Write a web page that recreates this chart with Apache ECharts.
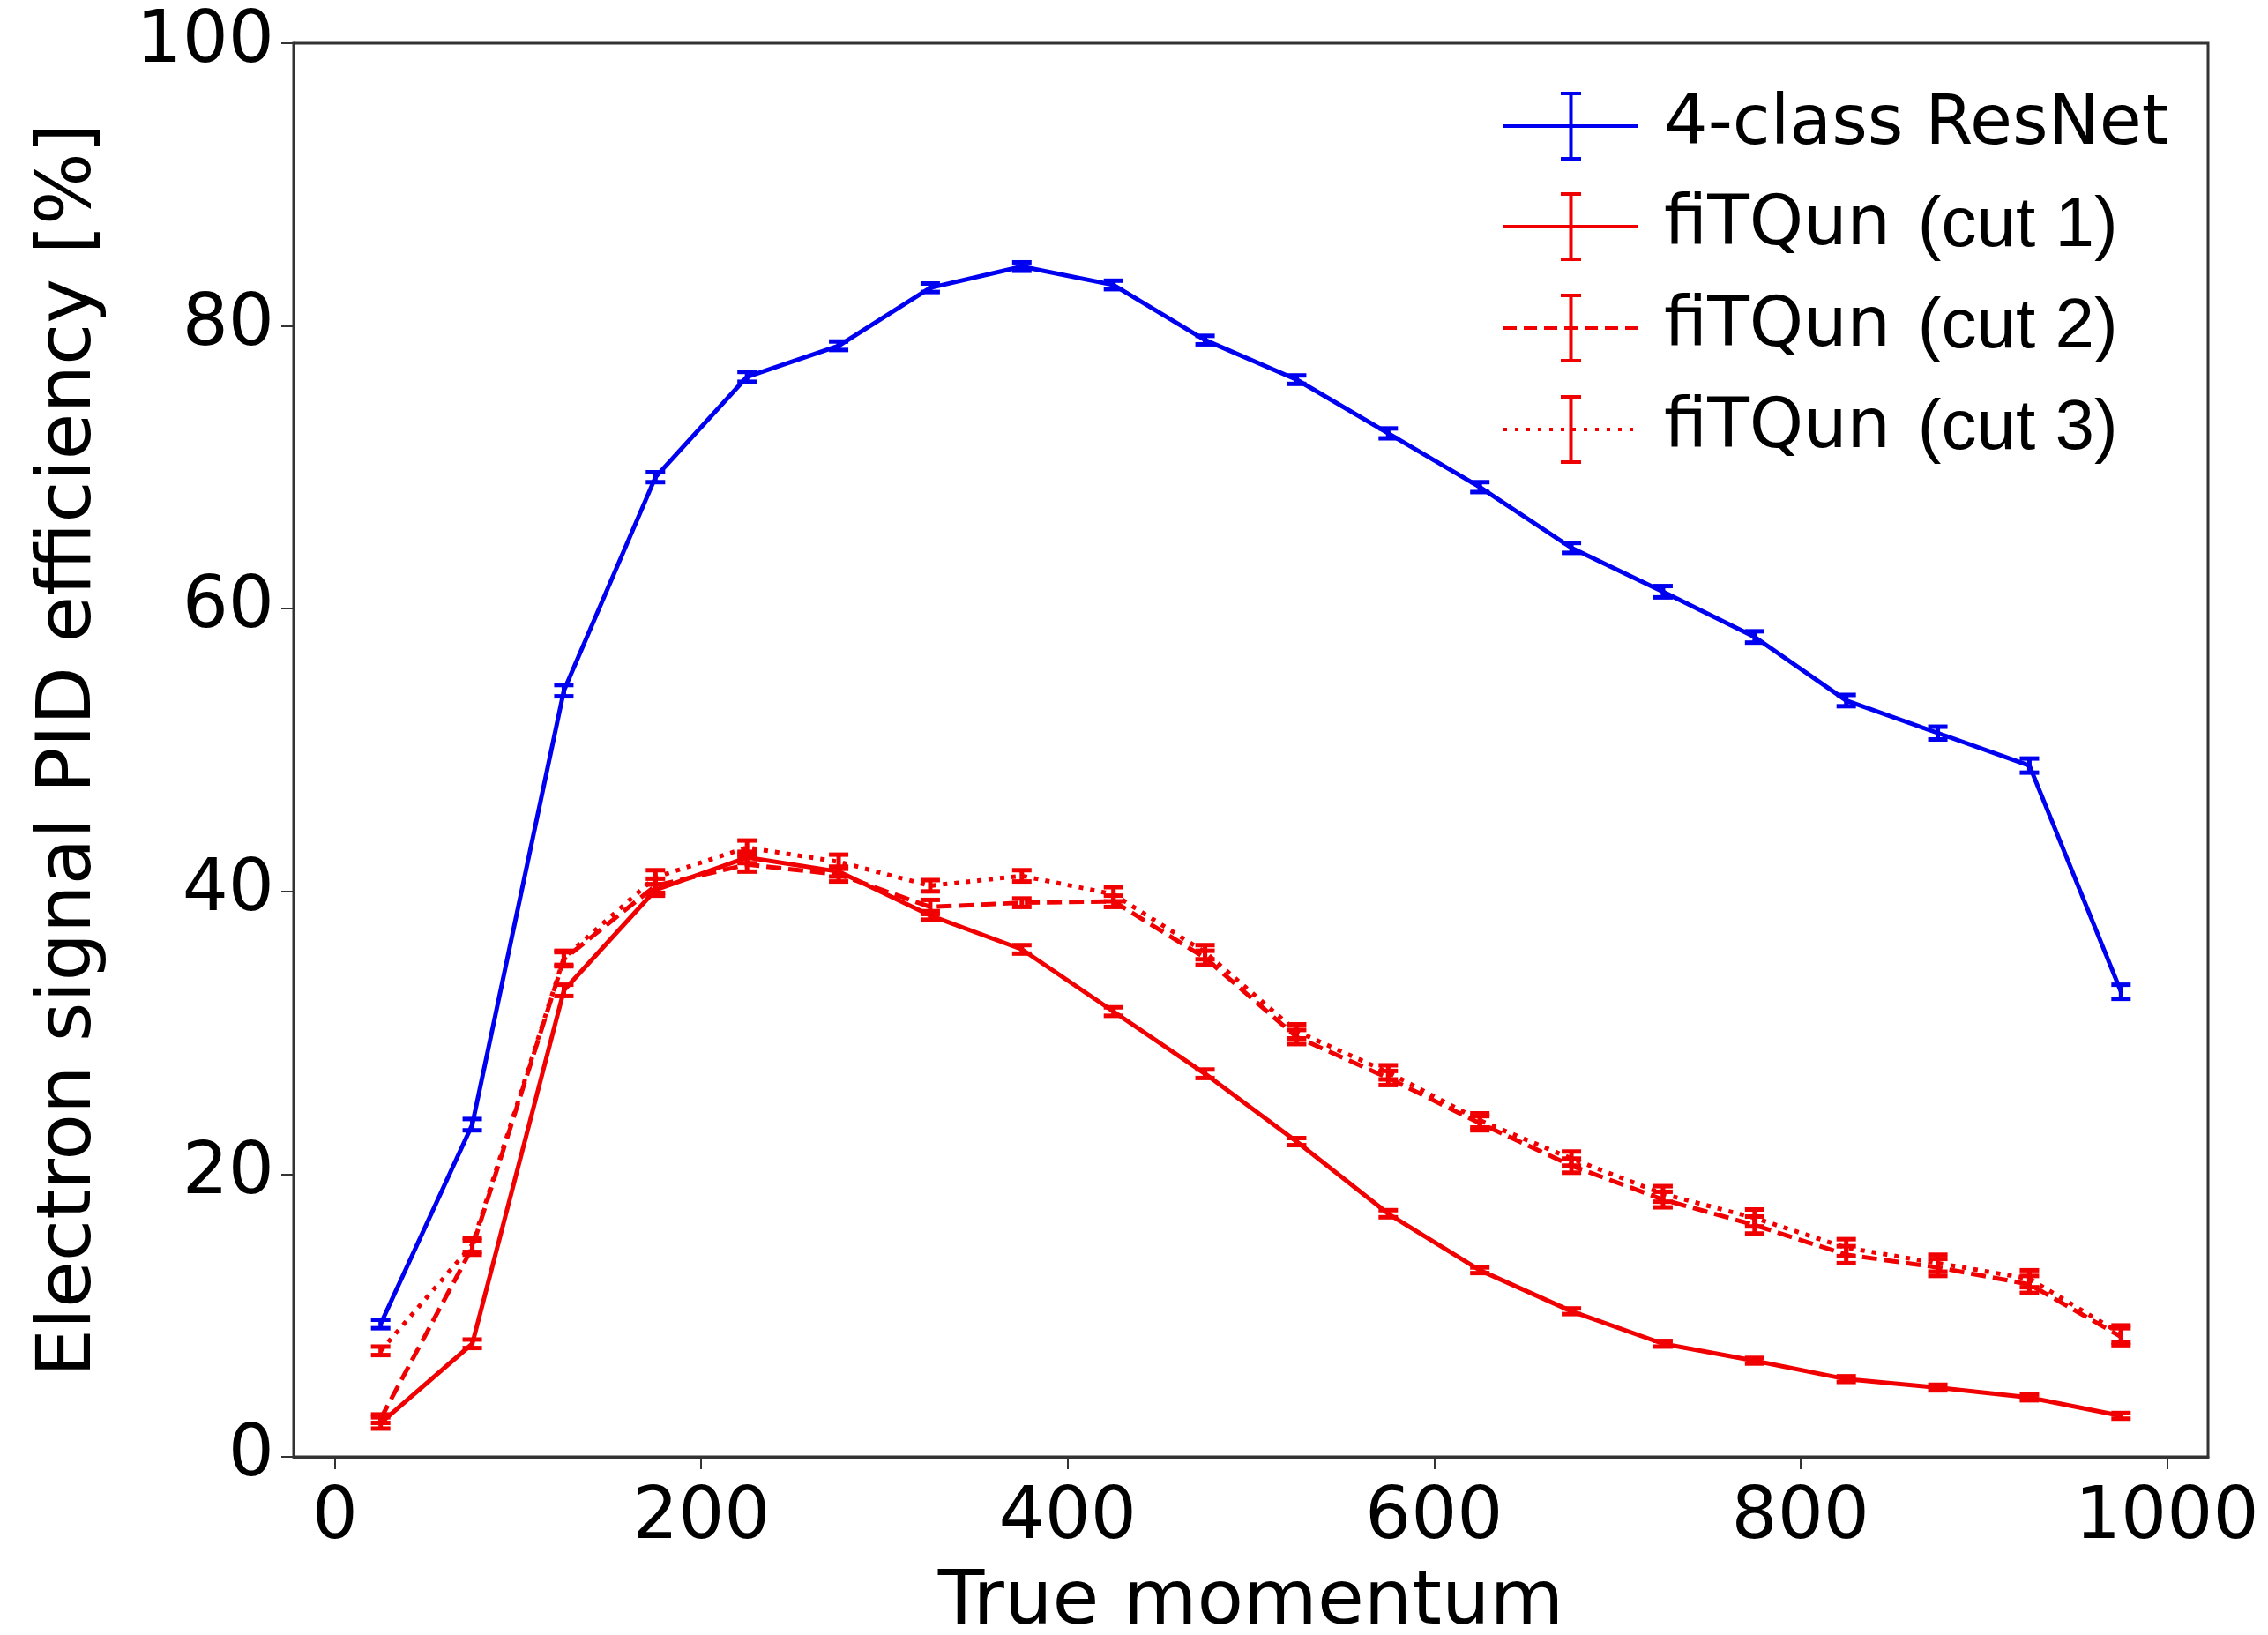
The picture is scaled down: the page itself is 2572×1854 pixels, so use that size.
<!DOCTYPE html>
<html>
<head>
<meta charset="utf-8">
<title>Electron signal PID efficiency</title>
<script src="https://cdn.jsdelivr.net/npm/echarts@6/dist/echarts.min.js"></script>
<style>
    html, body { margin: 0; padding: 0; background: #ffffff; }
    #chart { width: 2572px; height: 1854px; }
</style>
</head>
<body>
<div id="chart"></div>
<script>
// momentum bins (bin centres)
const momentum = [25, 75, 125, 175, 225, 275, 325, 375, 425, 475, 525, 575, 625, 675, 725, 775, 825, 875, 925, 975];

// efficiencies [%]
const resnet = [9.4, 23.5, 54.2, 69.3, 76.4, 78.6, 82.7, 84.2, 82.9, 79.0, 76.2, 72.4, 68.6, 64.3, 61.2, 58.0, 53.5, 51.2, 48.9, 32.9];
const cut1 = [2.4, 8.0, 33.0, 40.1, 42.4, 41.4, 38.3, 35.9, 31.5, 27.1, 22.3, 17.2, 13.2, 10.3, 8.0, 6.8, 5.5, 4.9, 4.2, 2.9];
const cut2 = [2.7, 14.8, 35.2, 40.4, 41.9, 41.2, 38.9, 39.2, 39.3, 35.3, 29.7, 26.8, 23.6, 20.6, 18.2, 16.4, 14.3, 13.4, 12.2, 8.5];
const cut3 = [7.5, 15.0, 35.3, 41.0, 43.1, 42.1, 40.4, 41.1, 39.8, 35.7, 30.1, 27.2, 23.8, 21.1, 18.6, 16.9, 14.8, 13.7, 12.6, 8.7];

// error bars (+/-)
const resnetErr = [0.3, 0.4, 0.4, 0.35, 0.35, 0.3, 0.3, 0.3, 0.3, 0.3, 0.3, 0.35, 0.35, 0.35, 0.4, 0.4, 0.4, 0.45, 0.5, 0.5];
const cut1Err = [0.4, 0.3, 0.4, 0.4, 0.4, 0.35, 0.3, 0.3, 0.3, 0.3, 0.25, 0.25, 0.2, 0.2, 0.2, 0.2, 0.2, 0.2, 0.2, 0.2];
const cut2Err = [0.3, 0.5, 0.5, 0.5, 0.5, 0.5, 0.5, 0.3, 0.4, 0.5, 0.5, 0.5, 0.5, 0.5, 0.55, 0.6, 0.6, 0.6, 0.6, 0.6];
const cut3Err = [0.3, 0.5, 0.5, 0.5, 0.5, 0.5, 0.4, 0.4, 0.5, 0.5, 0.5, 0.5, 0.5, 0.5, 0.55, 0.6, 0.6, 0.6, 0.6, 0.6];

const seriesNames = ['4-class ResNet', 'fiTQun (cut 1)', 'fiTQun (cut 2)', 'fiTQun (cut 3)'];

// tick labels
const xTicks = [0, 200, 400, 600, 800, 1000];
const yTicks = [0, 20, 40, 60, 80, 100];

document.addEventListener('DOMContentLoaded', function() {
    const BLUE = '#0000f0';
    const RED = '#f00000';
    const FONT = 'DejaVu Sans';

    // legend icon: horizontal line (solid / dashed / dotted) with an error bar
    function legendIcon(kind) {
        const W = 153, H = 78, t = 4, cx = 76.5, cap = 11.5;
        let d = '';
        const rect = (x0, y0, x1, y1) => {
            d += 'M' + x0 + ' ' + y0 + 'L' + x1 + ' ' + y0 + 'L' + x1 + ' ' + y1 + 'L' + x0 + ' ' + y1 + 'Z';
        };
        const y0 = H / 2 - t / 2, y1 = H / 2 + t / 2;
        if (kind === 'solid') {
            rect(0, y0, W, y1);
        } else {
            const on = kind === 'dashed' ? 15 : 4;
            const off = kind === 'dashed' ? 8 : 9;
            for (let x = 0; x < W; x += on + off) {
                rect(x, y0, Math.min(x + on, W), y1);
            }
            rect(W - 1, y0, W, y1);
        }
        rect(cx - t / 2, 0, cx + t / 2, H);
        rect(cx - cap, 0, cx + cap, t);
        rect(cx - cap, H - t, cx + cap, H);
        return 'path://' + d;
    }

    // error bars drawn with a custom series
    function errorSeries(name, values, errs, color) {
        return {
            name: name,
            type: 'custom',
            itemStyle: { color: color },
            data: momentum.map((m, i) => [m, values[i], errs[i]]),
            encode: { x: 0, y: 1 },
            z: 3,
            renderItem: function(params, api) {
                const x = api.value(0), y = api.value(1), e = api.value(2);
                const top = api.coord([x, y + e]);
                const bot = api.coord([x, y - e]);
                const hw = 11;
                const style = { stroke: color, lineWidth: 5 };
                return {
                    type: 'group',
                    children: [
                        { type: 'line', shape: { x1: top[0], y1: top[1], x2: bot[0], y2: bot[1] }, style: style },
                        { type: 'line', shape: { x1: top[0] - hw, y1: top[1], x2: top[0] + hw, y2: top[1] }, style: style },
                        { type: 'line', shape: { x1: bot[0] - hw, y1: bot[1], x2: bot[0] + hw, y2: bot[1] }, style: style }
                    ]
                };
            }
        };
    }

    function lineSeries(name, values, color, dash) {
        return {
            name: name,
            type: 'line',
            data: momentum.map((m, i) => [m, values[i]]),
            showSymbol: false,
            symbol: 'none',
            itemStyle: { color: color },
            lineStyle: { color: color, width: 5, type: dash },
            z: 2,
            animation: false
        };
    }

    const chart = echarts.init(document.getElementById('chart'));
    const option = {
        backgroundColor: '#ffffff',
        animation: false,
        grid: {
            left: 333,
            right: 68,
            top: 49,
            bottom: 202,
            show: true,
            borderColor: '#333333',
            borderWidth: 3,
            backgroundColor: 'transparent',
            outerBoundsMode: 'none'
        },
        legend: {
            orient: 'vertical',
            left: 1705,
            top: 104,
            padding: 0,
            itemWidth: 153,
            itemHeight: 78,
            itemGap: 35,
            selectedMode: false,
            itemStyle: { borderWidth: 0 },
            textStyle: {
                color: '#000000',
                padding: [0, 0, 0, 24],
                rich: {
                    a: { fontFamily: FONT, fontSize: 78, lineHeight: 78, color: '#000000' },
                    b: { fontFamily: 'Liberation Sans', fontSize: 80, lineHeight: 78, color: '#000000', padding: [0, 0, 0, 6] }
                }
            },
            formatter: function(name) {
                const i = name.indexOf(' (');
                if (i < 0) return '{a|' + name + '}';
                return '{a|' + name.slice(0, i) + ' }{b|' + name.slice(i + 1) + '}';
            },
            data: [
                { name: seriesNames[0], icon: legendIcon('solid'), itemStyle: { color: BLUE } },
                { name: seriesNames[1], icon: legendIcon('solid'), itemStyle: { color: RED } },
                { name: seriesNames[2], icon: legendIcon('dashed'), itemStyle: { color: RED } },
                { name: seriesNames[3], icon: legendIcon('dotted'), itemStyle: { color: RED } }
            ]
        },
        xAxis: {
            type: 'value',
            min: -22.5,
            max: 1022.5,
            name: 'True momentum',
            nameLocation: 'middle',
            nameGap: 124,
            nameTextStyle: { fontFamily: FONT, fontSize: 86, color: '#000000' },
            axisLine: { show: true, onZero: false, lineStyle: { color: '#333333', width: 3 } },
            axisTick: { show: true, length: 14, customValues: xTicks, lineStyle: { color: '#333333', width: 2 } },
            axisLabel: {
                customValues: xTicks,
                margin: 30,
                fontFamily: FONT,
                fontSize: 82,
                color: '#000000',
                formatter: function(v) { return String(v); }
            },
            splitLine: { show: false }
        },
        yAxis: {
            type: 'value',
            min: yTicks[0],
            max: yTicks[yTicks.length - 1],
            interval: 20,
            name: 'Electron signal PID efficiency [%]',
            nameLocation: 'middle',
            nameGap: 210,
            nameTextStyle: { fontFamily: FONT, fontSize: 86, color: '#000000' },
            axisLine: { show: true, onZero: false, lineStyle: { color: '#333333', width: 3 } },
            axisTick: { show: true, length: 14, lineStyle: { color: '#333333', width: 2 } },
            axisLabel: {
                margin: 22,
                fontFamily: FONT,
                fontSize: 82,
                color: '#000000'
            },
            splitLine: { show: false }
        },
        series: [
            lineSeries(seriesNames[0], resnet, BLUE, 'solid'),
            lineSeries(seriesNames[1], cut1, RED, 'solid'),
            lineSeries(seriesNames[2], cut2, RED, [17, 8]),
            lineSeries(seriesNames[3], cut3, RED, [5, 8]),
            errorSeries(seriesNames[0], resnet, resnetErr, BLUE),
            errorSeries(seriesNames[1], cut1, cut1Err, RED),
            errorSeries(seriesNames[2], cut2, cut2Err, RED),
            errorSeries(seriesNames[3], cut3, cut3Err, RED)
        ]
    };
    chart.setOption(option);

    window.addEventListener('resize', function() {
        chart.resize();
    });
});
</script>
</body>
</html>
